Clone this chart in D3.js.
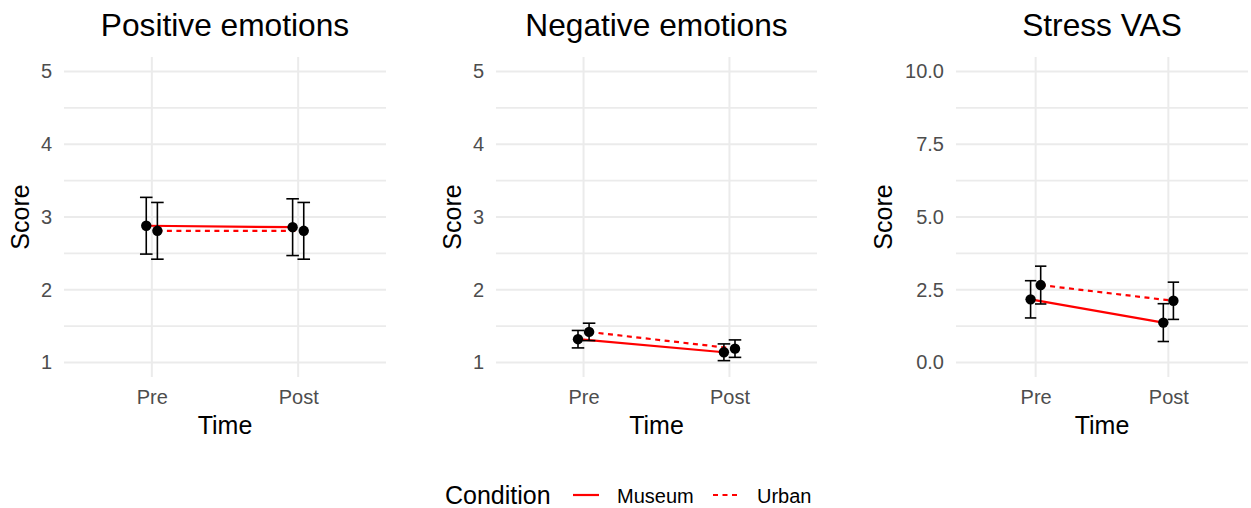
<!DOCTYPE html>
<html>
<head>
<meta charset="utf-8">
<script src="https://cdn.jsdelivr.net/npm/d3@7"></script>
<style>
  html, body { margin: 0; padding: 0; background: #ffffff; }
  svg { display: block; font-family: "Liberation Sans", Arial, Helvetica, sans-serif; }
</style>
</head>
<body>
<svg id="chart" width="1251" height="508"></svg>
<script>
// ---- data ----
const times = ["Pre", "Post"];
const conditions = ["Museum", "Urban"];
const panelTitles = ["Positive emotions", "Negative emotions", "Stress VAS"];

// Means (Pre, Post) and half-widths of the error bars
const positiveMuseumMean = [2.88, 2.86];
const positiveUrbanMean  = [2.81, 2.81];
const positiveMuseumErr  = [0.39, 0.39];
const positiveUrbanErr   = [0.39, 0.39];

const negativeMuseumMean = [1.32, 1.14];
const negativeUrbanMean  = [1.42, 1.19];
const negativeMuseumErr  = [0.12, 0.115];
const negativeUrbanErr   = [0.12, 0.12];

const stressMuseumMean = [2.17, 1.37];
const stressUrbanMean  = [2.66, 2.12];
const stressMuseumErr  = [0.64, 0.65];
const stressUrbanErr   = [0.65, 0.64];

// y-axis limits and tick labels per panel
const positiveTicks = [1, 2, 3, 4, 5];
const negativeTicks = [1, 2, 3, 4, 5];
const stressTicks   = [0, 2.5, 5, 7.5, 10];
const positiveTickLabels = ["1", "2", "3", "4", "5"];
const negativeTickLabels = ["1", "2", "3", "4", "5"];
const stressTickLabels   = ["0.0", "2.5", "5.0", "7.5", "10.0"];

// ---- layout ----
const plotTop = 57, plotBottom = 377;
const panels = [
  { title: panelTitles[0], x0: 64,  x1: 386,  ticks: positiveTicks, labels: positiveTickLabels,
    mean: { Museum: positiveMuseumMean, Urban: positiveUrbanMean },
    err:  { Museum: positiveMuseumErr,  Urban: positiveUrbanErr },
    scoreX: 29 },
  { title: panelTitles[1], x0: 496, x1: 817,  ticks: negativeTicks, labels: negativeTickLabels,
    mean: { Museum: negativeMuseumMean, Urban: negativeUrbanMean },
    err:  { Museum: negativeMuseumErr,  Urban: negativeUrbanErr },
    scoreX: 460.5 },
  { title: panelTitles[2], x0: 956, x1: 1248, ticks: stressTicks, labels: stressTickLabels,
    mean: { Museum: stressMuseumMean, Urban: stressUrbanMean },
    err:  { Museum: stressMuseumErr,  Urban: stressUrbanErr },
    scoreX: 891.5 }
];

const dodge = { Museum: -0.038, Urban: 0.038 };   // in units of the category step
const dashes = { Museum: null, Urban: "5,4.5" };
const gridColor = "#ebebeb";
const tickColor = "#4d4d4d";

const svg = d3.select("#chart");

panels.forEach(p => {
  const g = svg.append("g");
  const lo = p.ticks[0], hi = p.ticks[p.ticks.length - 1];
  const pad = (hi - lo) * 0.05;
  const y = d3.scaleLinear().domain([lo - pad, hi + pad]).range([plotBottom, plotTop]);
  const x = d3.scalePoint().domain(times).range([p.x0, p.x1]).padding(0.6);
  const step = x.step();
  const xd = (t, c) => x(t) + dodge[c] * step;

  // minor gridlines (midpoints between major ticks)
  const minor = d3.pairs(p.ticks).map(([a, b]) => (a + b) / 2);
  g.selectAll(".minor").data(minor).join("line")
    .attr("x1", p.x0).attr("x2", p.x1)
    .attr("y1", d => y(d)).attr("y2", d => y(d))
    .attr("stroke", gridColor).attr("stroke-width", 1.6);

  // major gridlines
  g.selectAll(".major").data(p.ticks).join("line")
    .attr("x1", p.x0).attr("x2", p.x1)
    .attr("y1", d => y(d)).attr("y2", d => y(d))
    .attr("stroke", gridColor).attr("stroke-width", 2);
  g.selectAll(".vgrid").data(times).join("line")
    .attr("x1", d => x(d)).attr("x2", d => x(d))
    .attr("y1", plotTop).attr("y2", plotBottom)
    .attr("stroke", gridColor).attr("stroke-width", 2);

  // y-axis (ticks and domain hidden; labels only)
  const yAxis = d3.axisLeft(y).tickValues(p.ticks)
    .tickFormat((d, i) => p.labels[i]).tickSize(0).tickPadding(12);
  const ya = g.append("g").attr("transform", `translate(${p.x0},0)`).call(yAxis);
  ya.select(".domain").remove();
  ya.selectAll("text").attr("fill", tickColor).style("font-size", "20px")
    .style("font-family", "inherit");

  // x-axis labels
  const xAxis = d3.axisBottom(x).tickSize(0).tickPadding(0);
  const xa = g.append("g").attr("transform", `translate(0,${plotBottom})`).call(xAxis);
  xa.select(".domain").remove();
  xa.selectAll("text").attr("fill", tickColor).style("font-size", "20px")
    .style("font-family", "inherit").attr("dy", null).attr("y", 27);

  // lines per condition
  const line = d3.line().x(d => xd(d.t, d.c)).y(d => y(d.v));
  conditions.forEach(c => {
    const pts = times.map((t, i) => ({ t, c, v: p.mean[c][i] }));
    g.append("path").datum(pts)
      .attr("d", line)
      .attr("fill", "none").attr("stroke", "#ff0000").attr("stroke-width", 2.2)
      .attr("stroke-dasharray", dashes[c]);
  });

  // error bars and points
  const rows = [];
  conditions.forEach(c => times.forEach((t, i) =>
    rows.push({ t, c, v: p.mean[c][i], e: p.err[c][i] })));
  const capHalf = 0.043 * step;
  const eb = g.selectAll(".eb").data(rows).join("g")
    .attr("stroke", "#000").attr("stroke-width", 1.6).attr("fill", "none");
  eb.append("line")
    .attr("x1", d => xd(d.t, d.c)).attr("x2", d => xd(d.t, d.c))
    .attr("y1", d => y(d.v - d.e)).attr("y2", d => y(d.v + d.e));
  eb.append("line")
    .attr("x1", d => xd(d.t, d.c) - capHalf).attr("x2", d => xd(d.t, d.c) + capHalf)
    .attr("y1", d => y(d.v + d.e)).attr("y2", d => y(d.v + d.e));
  eb.append("line")
    .attr("x1", d => xd(d.t, d.c) - capHalf).attr("x2", d => xd(d.t, d.c) + capHalf)
    .attr("y1", d => y(d.v - d.e)).attr("y2", d => y(d.v - d.e));
  g.selectAll(".pt").data(rows).join("circle")
    .attr("cx", d => xd(d.t, d.c)).attr("cy", d => y(d.v)).attr("r", 5.2)
    .attr("fill", "#000");

  // titles
  const cx = (p.x0 + p.x1) / 2;
  g.append("text").attr("x", cx).attr("y", 36).attr("text-anchor", "middle")
    .style("font-size", "31.7px").attr("fill", "#000").text(p.title);
  g.append("text").attr("x", cx).attr("y", 434).attr("text-anchor", "middle")
    .style("font-size", "25px").attr("fill", "#000").text("Time");
  g.append("text")
    .attr("transform", `translate(${p.scoreX},${(plotTop + plotBottom) / 2}) rotate(-90)`)
    .attr("text-anchor", "middle")
    .style("font-size", "25px").attr("fill", "#000").text("Score");
});

// legend
const legendY = 495;
const legend = svg.append("g");
legend.append("text").attr("x", 445).attr("y", legendY + 8.5)
  .style("font-size", "25px").attr("fill", "#000").text("Condition");
const legendItems = [
  { c: conditions[0], lx: 573, tx: 617 },
  { c: conditions[1], lx: 713, tx: 757 }
];
legendItems.forEach(it => {
  legend.append("line").attr("x1", it.lx).attr("x2", it.lx + 26)
    .attr("y1", legendY).attr("y2", legendY)
    .attr("stroke", "#ff0000").attr("stroke-width", 2.2)
    .attr("stroke-dasharray", dashes[it.c]);
  legend.append("text").attr("x", it.tx).attr("y", legendY + 7.5)
    .style("font-size", "20px").attr("fill", "#000").text(it.c);
});
</script>
</body>
</html>
